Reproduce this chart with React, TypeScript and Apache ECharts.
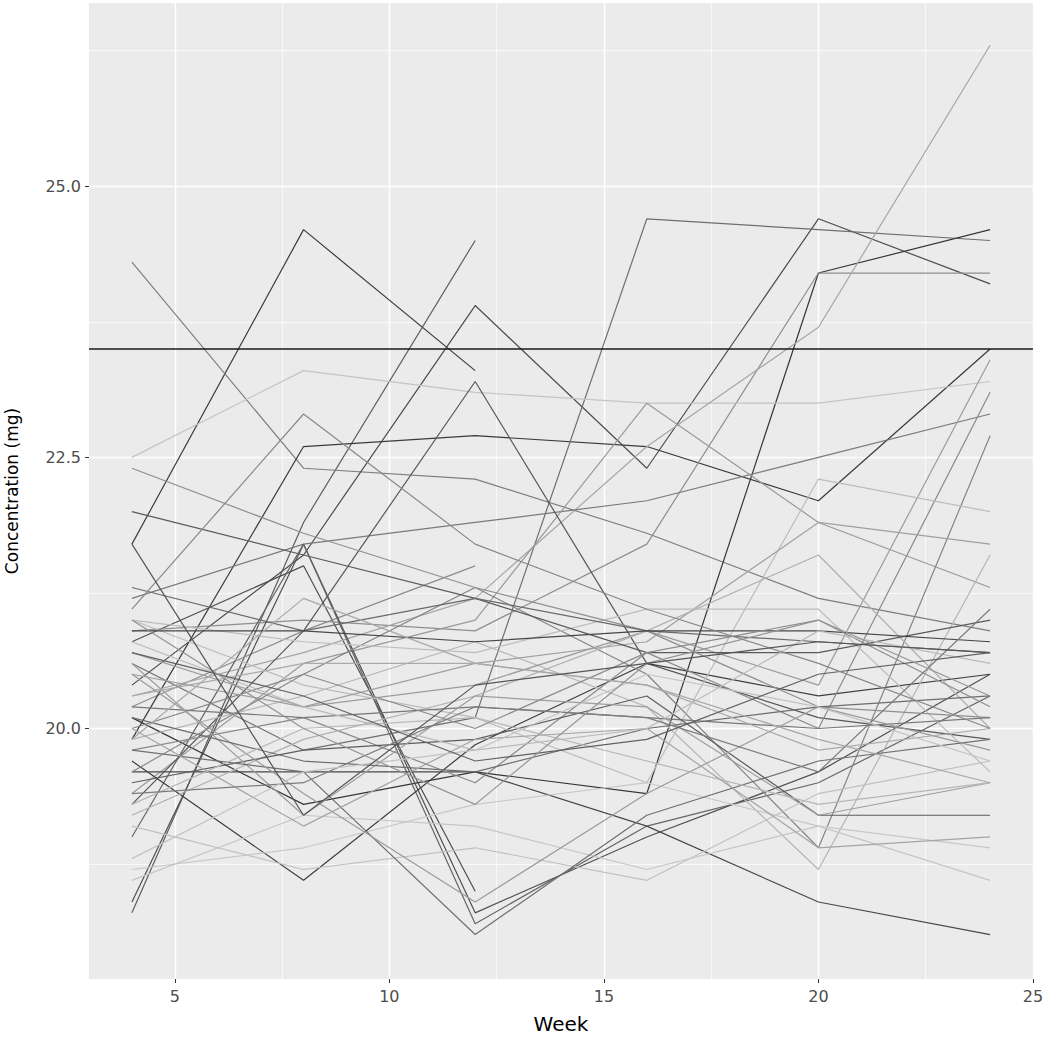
import React, { useEffect, useRef } from "react";
import * as echarts from "echarts";

const weeks = [4, 8, 12, 16, 20, 24];

const subjects: (number | null)[][] = [
  [21.7, 24.6, 23.3, null, null, null],
  [18.3, 21.9, 24.5, null, null, null],
  [20.8, 21.5, 18.5, null, null, null],
  [20.2, 20.9, 21.5, null, null, null],
  [24.3, 22.4, 22.3, 21.8, 21.2, 20.9],
  [19.9, 22.6, 22.7, 22.6, 22.1, 23.5],
  [20.4, 21.6, 23.9, 22.4, 24.7, 24.1],
  [20.6, 19.8, 20.1, 24.7, 24.6, 24.5],
  [20.1, 19.3, 19.6, 19.4, 24.2, 24.6],
  [20.9, 21.0, 20.9, 21.7, 24.2, 24.2],
  [22.5, 23.3, 23.1, 23.0, 23.0, 23.2],
  [20.3, 20.7, 21.2, 22.6, 23.7, 26.3],
  [21.2, 21.7, 21.9, 22.1, 22.5, 22.9],
  [19.4, 20.6, 21.0, 23.0, 21.9, 21.3],
  [19.3, 20.9, 23.2, 20.6, 20.1, 19.9],
  [18.4, 21.7, 18.3, 19.0, 19.6, 20.5],
  [19.0, 21.7, 18.2, 19.1, 19.5, 20.3],
  [19.7, 18.6, 19.85, 20.6, 20.3, 20.5],
  [19.6, 19.6, 19.6, 19.1, 18.4, 18.1],
  [20.0, 20.5, 21.3, 20.5, 18.9, 22.7],
  [19.9, 20.3, 20.8, 20.2, 18.7, 21.6],
  [20.5, 20.2, 20.4, 20.9, 20.4, 23.4],
  [19.8, 20.1, 19.5, 20.7, 20.0, 23.1],
  [21.0, 20.4, 20.1, 19.5, 22.3, 22.0],
  [20.7, 20.2, 20.6, 20.8, 21.9, 21.7],
  [19.2, 19.9, 20.3, 20.9, 21.6, 20.0],
  [21.0, 20.8, 20.7, 21.1, 21.1, 19.6],
  [22.0, 21.6, 21.2, 20.7, 20.7, 21.0],
  [22.4, 21.8, 21.3, 20.9, 20.2, 20.1],
  [21.3, 20.9, 21.2, 20.9, 20.8, 20.7],
  [20.9, 20.9, 20.8, 20.9, 20.9, 20.8],
  [20.2, 20.1, 20.2, 20.1, 20.0, 20.1],
  [19.5, 19.8, 19.9, 20.3, 19.2, 19.2],
  [20.6, 19.2, 20.3, 20.2, 19.2, 19.5],
  [19.1, 18.7, 18.9, 18.6, 19.4, 19.7],
  [18.7, 18.9, 19.3, 19.5, 19.1, 18.9],
  [18.6, 19.2, 19.1, 18.7, 19.1, 18.6],
  [19.8, 19.6, 18.1, 19.2, 19.7, 19.9],
  [20.5, 19.4, 18.4, 19.4, 20.2, 19.8],
  [20.1, 19.7, 19.6, 20.0, 20.2, 20.3],
  [19.3, 20.0, 20.1, 19.7, 19.3, 19.5],
  [20.0, 19.1, 19.9, 20.0, 18.9, 19.0],
  [20.3, 20.6, 20.6, 20.4, 19.8, 20.0],
  [19.6, 20.5, 20.0, 20.7, 21.0, 20.2],
  [20.8, 20.2, 19.8, 20.0, 20.9, 20.6],
  [19.4, 19.5, 20.2, 20.1, 19.6, 21.1],
  [18.8, 19.6, 19.8, 20.5, 20.2, 19.7],
  [20.7, 20.3, 19.7, 19.9, 20.5, 20.7],
  [19.9, 21.2, 20.6, 20.4, 19.9, 19.5],
  [21.0, 20.0, 19.3, 20.6, 21.0, 20.3],
  [21.1, 22.9, 21.7, 21.1, 20.6, 20.0],
  [21.7, 19.2, 20.4, 20.6, 20.8, 20.7],
];

const shades = [
  "#3d3d3d", "#5e5e5e", "#4f4f4f", "#8c8c8c", "#7e7e7e", "#3a3a3a", "#4c4c4c",
  "#6e6e6e", "#363636", "#8e8e8e", "#c4c4c4", "#a6a6a6", "#7a7a7a", "#9a9a9a",
  "#585858", "#505050", "#656565", "#3e3e3e", "#484848", "#848484", "#b4b4b4",
  "#9c9c9c", "#8a8a8a", "#bcbcbc", "#a0a0a0", "#b0b0b0", "#bdbdbd", "#5a5a5a",
  "#8f8f8f", "#6a6a6a", "#474747", "#777777", "#5c5c5c", "#9e9e9e", "#c0c0c0",
  "#c8c8c8", "#c6c6c6", "#707070", "#9a9a9a", "#6c6c6c", "#b6b6b6", "#a4a4a4",
  "#aaaaaa", "#8c8c8c", "#bababa", "#7c7c7c", "#c2c2c2", "#606060", "#a8a8a8",
  "#959595", "#888888", "#555555",
];

const xMajor = [5, 10, 15, 20, 25];
const xMinor = [7.5, 12.5, 17.5, 22.5];
const yMajor = [20, 22.5, 25];
const yMinor = [18.75, 21.25, 23.75, 26.25];
const referenceLevel = 23.5;

const X_MIN = 3;
const X_MAX = 25;
const Y_MIN = 17.69;
const Y_MAX = 26.69;

export default function App() {
  const ref = useRef<HTMLDivElement>(null);

  useEffect(() => {
    document.body.style.margin = "0";
    if (!ref.current) return;
    const chart = echarts.init(ref.current, null, { renderer: "svg" });

    const gridLines = [
      ...xMinor.map((v) => ({ xAxis: v, lineStyle: { width: 0.7 } })),
      ...yMinor.map((v) => ({ yAxis: v, lineStyle: { width: 0.7 } })),
      ...xMajor.map((v) => ({ xAxis: v, lineStyle: { width: 1.4 } })),
      ...yMajor.map((v) => ({ yAxis: v, lineStyle: { width: 1.4 } })),
    ];

    const lineSeries = subjects.map((vals, i) => ({
      type: "line",
      name: "S" + (i + 1),
      data: weeks.map((w, j) => (vals[j] == null ? null : [w, vals[j]])),
      showSymbol: false,
      symbol: "none",
      connectNulls: false,
      z: 10,
      lineStyle: { color: shades[i % shades.length], width: 1.2 },
      silent: true,
    }));

    const labelFont = {
      fontFamily: "DejaVu Sans",
      fontSize: 16,
      color: "#4D4D4D",
    };

    chart.setOption({
      animation: false,
      grid: {
        left: 89,
        right: 17,
        top: 3,
        bottom: 60,
        show: true,
        backgroundColor: "#EBEBEB",
        borderWidth: 0,
        containLabel: false,
        outerBoundsMode: "none",
      },
      xAxis: {
        type: "value",
        min: X_MIN,
        max: X_MAX,
        name: "Week",
        nameLocation: "middle",
        nameGap: 35,
        nameTextStyle: { fontFamily: "DejaVu Sans", fontSize: 20, color: "#000" },
        axisLine: { show: false },
        axisTick: {
          show: true,
          length: 4,
          lineStyle: { color: "#333", width: 1 },
          customValues: xMajor,
        },
        axisLabel: { ...labelFont, margin: 9, customValues: xMajor },
        splitLine: { show: false },
      },
      yAxis: {
        type: "value",
        min: Y_MIN,
        max: Y_MAX,
        name: "Concentration (mg)",
        nameLocation: "middle",
        nameGap: 69,
        nameRotate: 90,
        nameTextStyle: { fontFamily: "DejaVu Sans", fontSize: 17, color: "#000" },
        axisLine: { show: false },
        axisTick: {
          show: true,
          length: 4,
          lineStyle: { color: "#333", width: 1 },
          customValues: yMajor,
        },
        axisLabel: {
          ...labelFont,
          margin: 8,
          customValues: yMajor,
          formatter: (v: number) => v.toFixed(1),
        },
        splitLine: { show: false },
      },
      series: [
        {
          type: "line",
          data: [],
          z: 1,
          silent: true,
          markLine: {
            silent: true,
            z: 1,
            symbol: ["none", "none"],
            label: { show: false },
            lineStyle: { color: "#FFFFFF", type: "solid" },
            emphasis: { disabled: true },
            data: gridLines,
          },
        },
        ...lineSeries,
        {
          type: "line",
          data: [],
          z: 20,
          silent: true,
          markLine: {
            silent: true,
            z: 20,
            symbol: ["none", "none"],
            label: { show: false },
            lineStyle: { color: "#1a1a1a", type: "solid", width: 1.6 },
            emphasis: { disabled: true },
            data: [{ yAxis: referenceLevel }],
          },
        },
      ],
    });

    return () => chart.dispose();
  }, []);

  return <div ref={ref} style={{ width: 1050, height: 1039 }} />;
}
